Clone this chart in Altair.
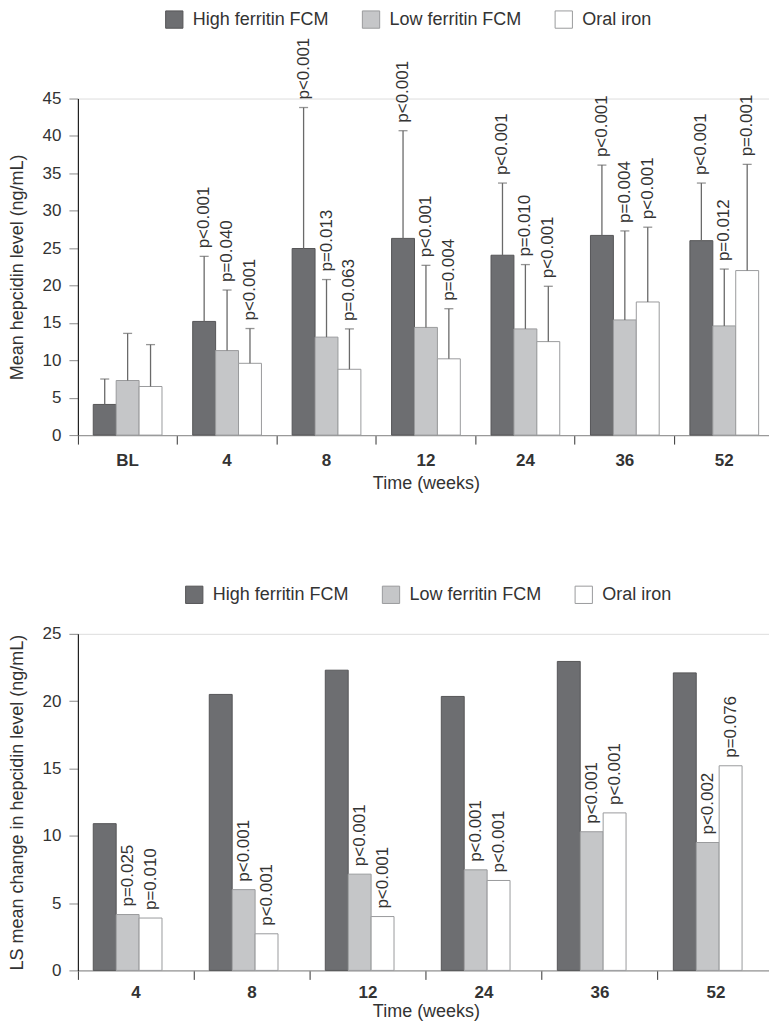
import altair as alt
import pandas as pd

groups = ["High ferritin FCM", "Low ferritin FCM", "Oral iron"]
fills = ["#6d6e71", "#c5c6c8", "#ffffff"]
strokes = ["#555557", "#9a9b9d", "#9a9b9d"]

# ---- Top panel: mean hepcidin level ----
weeks_top = ["BL", "4", "8", "12", "24", "36", "52"]
high_mean = [4.1, 15.2, 24.95, 26.3, 24.05, 26.7, 26.0]
high_upper = [7.5, 23.9, 43.8, 40.7, 33.7, 36.1, 33.7]
low_mean = [7.3, 11.3, 13.1, 14.4, 14.2, 15.4, 14.6]
low_upper = [13.6, 19.4, 20.8, 22.7, 22.8, 27.3, 22.2]
oral_mean = [6.5, 9.6, 8.8, 10.2, 12.5, 17.8, 22.0]
oral_upper = [12.1, 14.25, 14.2, 16.9, 19.9, 27.8, 36.2]
high_p = ["", "p<0.001", "p<0.001", "p<0.001", "p<0.001", "p<0.001", "p<0.001"]
low_p = ["", "p=0.040", "p=0.013", "p<0.001", "p=0.010", "p=0.004", "p=0.012"]
oral_p = ["", "p<0.001", "p=0.063", "p=0.004", "p<0.001", "p<0.001", "p=0.001"]

# ---- Bottom panel: LS mean change ----
weeks_bottom = ["4", "8", "12", "24", "36", "52"]
high_change = [10.9, 20.5, 22.3, 20.35, 22.95, 22.1]
low_change = [4.15, 6.0, 7.15, 7.47, 10.3, 9.5]
oral_change = [3.89, 2.72, 4.0, 6.68, 11.7, 15.2]
high_p2 = ["", "", "", "", "", ""]
low_p2 = ["p=0.025", "p<0.001", "p<0.001", "p<0.001", "p<0.001", "p<0.002"]
oral_p2 = ["p=0.010", "p<0.001", "p<0.001", "p<0.001", "p<0.001", "p=0.076"]

rows = []
for g, means, ups, ps in zip(groups, [high_mean, low_mean, oral_mean],
                             [high_upper, low_upper, oral_upper],
                             [high_p, low_p, oral_p]):
    for w, m, u, p in zip(weeks_top, means, ups, ps):
        rows.append({"week": w, "group": g, "mean": m, "upper": u, "p": p})
df_top = pd.DataFrame(rows)

rows = []
for g, vals, ps in zip(groups, [high_change, low_change, oral_change],
                       [high_p2, low_p2, oral_p2]):
    for w, v, p in zip(weeks_bottom, vals, ps):
        rows.append({"week": w, "group": g, "change": v, "p": p})
df_bot = pd.DataFrame(rows)

FONT = "Liberation Sans, Arial, Helvetica, sans-serif"
TXT = "#333333"
W = 697
H = 337


def x_enc(weeks, label_pad, title_pad):
    return alt.X(
        "week:N", sort=weeks,
        scale=alt.Scale(paddingInner=0, paddingOuter=0),
        axis=alt.Axis(
            title="Time (weeks)", labelAngle=0, bandPosition=0,
            labelFont=FONT, labelFontSize=17, labelFontWeight="bold", labelColor=TXT,
            labelPadding=label_pad, tickSize=9, tickColor="#333333", tickWidth=1,
            domainColor="#9a9a9a", domainWidth=1.2,
            titleFont=FONT, titleFontSize=18, titleFontWeight="normal", titleColor=TXT,
            titlePadding=title_pad,
        ),
    )


def xo_enc():
    return alt.XOffset("group:N", sort=groups,
                       scale=alt.Scale(paddingInner=0, paddingOuter=0.67))


def legend(lx, ly):
    return alt.Legend(
        title=None, orient="none", legendX=lx, legendY=ly, direction="horizontal",
        symbolType="square", symbolSize=300, symbolStrokeColor="#8a8a8a",
        symbolStrokeWidth=1, labelFont=FONT, labelFontSize=18, labelColor=TXT,
        labelOffset=9, columnPadding=30, padding=0,
    )


def y_axis(title, vmax):
    return alt.Axis(
        title=title, values=list(range(0, vmax + 1, 5)), grid=False,
        labelFont=FONT, labelFontSize=17, labelColor=TXT, labelPadding=8,
        labelOverlap=False,
        tickSize=9, tickColor="#8a8a8a", domainColor="#222222", domainWidth=1.2,
        titleFont=FONT, titleFontSize=18, titleFontWeight="normal", titleColor=TXT,
        titleX=-60, titleY=H / 2, titleBaseline="middle", titleAngle=-90,
    )


def y_enc(field, title, vmax):
    return alt.Y(field, scale=alt.Scale(domain=[0, vmax], nice=False),
                 axis=y_axis(title, vmax))


TOP_TITLE = "Mean hepcidin level (ng/mL)"
BOT_TITLE = "LS mean change in hepcidin level (ng/mL)"

color_top = alt.Color("group:N", sort=groups,
                      scale=alt.Scale(domain=groups, range=fills),
                      legend=legend(87, -89))
stroke_enc = alt.Stroke("group:N", sort=groups,
                        scale=alt.Scale(domain=groups, range=strokes), legend=None)

base_top = alt.Chart(df_top).encode(x=x_enc(weeks_top, 8, 6), xOffset=xo_enc())
bars_top = base_top.mark_bar(strokeWidth=1).encode(
    y=y_enc("mean:Q", TOP_TITLE, 45),
    color=color_top, stroke=stroke_enc,
)
err_top = base_top.mark_rule(color="#6a6a6a", strokeWidth=1.3).encode(
    y=y_enc("mean:Q", TOP_TITLE, 45), y2="upper:Q")
cap_top = base_top.mark_tick(color="#6a6a6a", thickness=1.3, size=9,
                             orient="horizontal").encode(
    y=y_enc("upper:Q", TOP_TITLE, 45))
txt_top = base_top.mark_text(angle=270, align="left", baseline="middle", dx=8,
                             font=FONT, fontSize=17, color=TXT).encode(
    y=y_enc("upper:Q", TOP_TITLE, 45), text="p:N")
top = alt.layer(bars_top, err_top, cap_top, txt_top).properties(width=W, height=H)

color_bot = alt.Color("group:N", sort=groups,
                      scale=alt.Scale(domain=groups, range=fills),
                      legend=legend(107, -49))
base_bot = alt.Chart(df_bot).encode(x=x_enc(weeks_bottom, 5, 2), xOffset=xo_enc())
bars_bot = base_bot.mark_bar(strokeWidth=1).encode(
    y=y_enc("change:Q", BOT_TITLE, 25),
    color=color_bot, stroke=stroke_enc,
)
txt_bot = base_bot.mark_text(angle=270, align="left", baseline="middle", dx=8,
                             font=FONT, fontSize=17, color=TXT).encode(
    y=y_enc("change:Q", BOT_TITLE, 25), text="p:N")
bottom = alt.layer(bars_bot, txt_bot).properties(width=W, height=H)

chart = alt.vconcat(top, bottom, spacing=199, bounds="flush").resolve_scale(
    color="independent", stroke="independent").resolve_legend(
    color="independent").properties(
    padding={"left": 0, "top": 0, "right": -6, "bottom": 0}
).configure_view(stroke=None).configure(font=FONT)

chart.save("out.html", embed_options={"renderer": "svg", "actions": False})
